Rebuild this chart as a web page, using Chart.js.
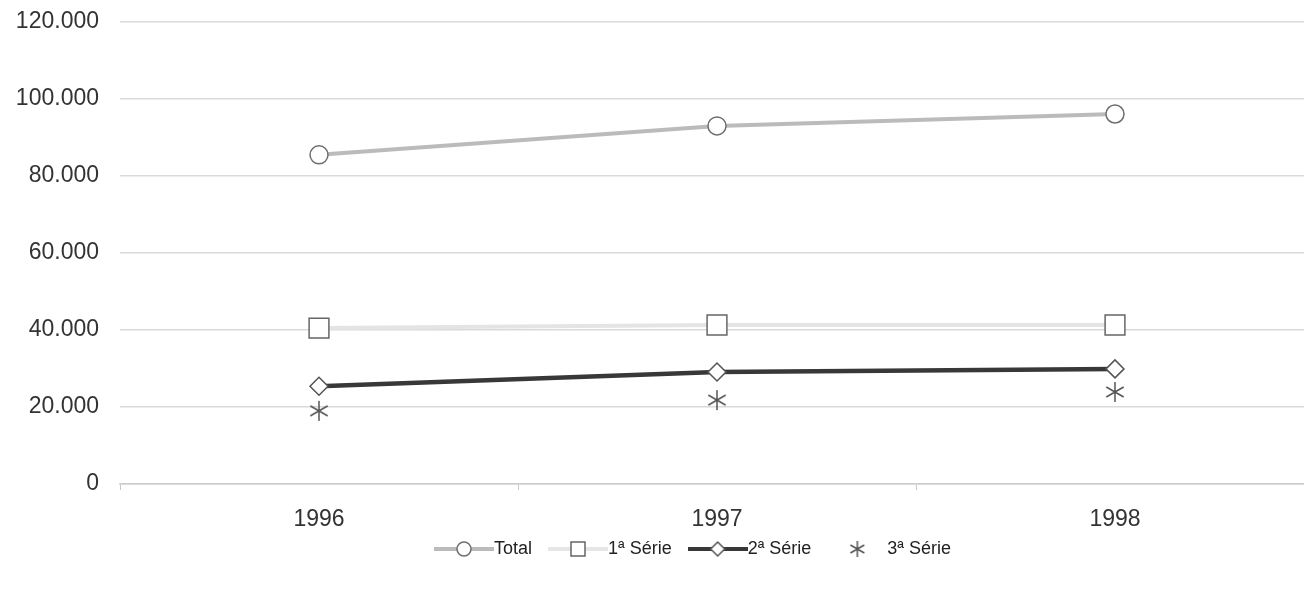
<!DOCTYPE html>
<html>
<head>
<meta charset="utf-8">
<script src="https://cdn.jsdelivr.net/npm/chart.js@4/dist/chart.umd.min.js"></script>
<style>
  html, body { margin: 0; padding: 0; background: #fff; overflow: hidden; }
  canvas { display: block; }
</style>
</head>
<body>
<canvas id="grafico" width="1314" height="590"></canvas>
<script>
// Dados
const anos = ['1996', '1997', '1998'];
const total = [85500, 93000, 96100];
const serie1 = [40500, 41300, 41300];
const serie2 = [25400, 29100, 29900];
const serie3 = [19000, 21800, 23900];
const nomes = ['Total', '1ª Série', '2ª Série', '3ª Série'];
const yMax = 120000;
const yPasso = 20000;

// marcador asterisco de 6 pontas
function asterisco(tam, cor) {
    const c = document.createElement('canvas');
    c.width = tam; c.height = tam;
    const g = c.getContext('2d');
    const r = tam / 2 - 1;
    g.strokeStyle = cor;
    g.lineWidth = 1.5;
    g.beginPath();
    for (let i = 0; i < 3; i++) {
        const a = Math.PI / 2 + i * Math.PI / 3;
        g.moveTo(tam / 2 + r * Math.cos(a), tam / 2 + r * Math.sin(a));
        g.lineTo(tam / 2 - r * Math.cos(a), tam / 2 - r * Math.sin(a));
    }
    g.stroke();
    return c;
}

// chave da legenda: linha + marcador
function chave(corLinha, tipo, corMarca) {
    const w = 60, h = 24;
    const c = document.createElement('canvas');
    c.width = w; c.height = h;
    const g = c.getContext('2d');
    const cx = w / 2, cy = h / 2;
    if (corLinha) {
        g.strokeStyle = corLinha;
        g.lineWidth = 4;
        g.beginPath(); g.moveTo(0, cy); g.lineTo(w, cy); g.stroke();
    }
    g.strokeStyle = corMarca;
    g.fillStyle = '#fff';
    g.lineWidth = 1.5;
    g.beginPath();
    if (tipo === 'circle') {
        g.arc(cx, cy, 7, 0, Math.PI * 2);
    } else if (tipo === 'rect') {
        g.rect(cx - 7, cy - 7, 14, 14);
    } else if (tipo === 'rectRot') {
        g.moveTo(cx, cy - 7); g.lineTo(cx + 7, cy); g.lineTo(cx, cy + 7); g.lineTo(cx - 7, cy); g.closePath();
    }
    if (tipo !== 'star') {
        g.fill(); g.stroke();
    } else {
        g.drawImage(asterisco(18, corMarca), cx - 9, cy - 9);
    }
    return c;
}

const chaves = [
    chave('#bbbbbb', 'circle', '#6e6e6e'),
    chave('#e6e6e6', 'rect', '#666666'),
    chave('#383838', 'rectRot', '#555555'),
    chave(null, 'star', '#555555')
];

// desloca a legenda (direita e para cima), como no original
const moveLegenda = {
    id: 'moveLegenda',
    afterLayout(chart) {
        const l = chart.legend;
        l.left += 40;
        l.right += 40;
        l.top -= 19;
        l.bottom -= 19;
    }
};

const fonte = '"Liberation Sans", Arial, Helvetica, sans-serif';

const ctx = document.getElementById('grafico').getContext('2d');
const grafico = new Chart(ctx, {
    type: 'line',
    data: {
        labels: anos,
        datasets: [{
            label: nomes[0],
            data: total,
            borderColor: '#bbbbbb',
            borderWidth: 4,
            pointStyle: 'circle',
            pointRadius: 9,
            pointBorderColor: '#6e6e6e',
            pointBackgroundColor: '#ffffff',
            pointBorderWidth: 1.5
        }, {
            label: nomes[1],
            data: serie1,
            borderColor: '#e4e4e4',
            borderWidth: 4,
            pointStyle: 'rect',
            pointRadius: 14,
            pointBorderColor: '#666666',
            pointBackgroundColor: '#ffffff',
            pointBorderWidth: 1.5
        }, {
            label: nomes[2],
            data: serie2,
            borderColor: '#383838',
            borderWidth: 4.5,
            pointStyle: 'rectRot',
            pointRadius: 9,
            pointBorderColor: '#555555',
            pointBackgroundColor: '#ffffff',
            pointBorderWidth: 1.5
        }, {
            label: nomes[3],
            data: serie3,
            showLine: false,
            borderColor: '#555555',
            pointStyle: asterisco(22, '#555555')
        }]
    },
    options: {
        responsive: false,
        animation: false,
        events: [],
        layout: { autoPadding: false, padding: { top: 22, bottom: 3, left: 0, right: 0 } },
        scales: {
            x: {
                offset: true,
                grid: {
                    offset: true,
                    drawOnChartArea: false,
                    tickLength: 6,
                    color: '#c8c8c8'
                },
                border: { color: '#cccccc', width: 1.5 },
                ticks: {
                    padding: 16,
                    color: '#333',
                    font: { family: fonte, size: 23 }
                },
                afterFit: s => {
                    s.height = 50;
                    s.paddingLeft = 0;
                    s.paddingRight = 0;
                }
            },
            y: {
                min: 0,
                max: yMax,
                grid: { color: '#dadada', lineWidth: 1.5, tickLength: 21, tickColor: 'rgba(0,0,0,0)' },
                border: { display: false },
                ticks: {
                    stepSize: yPasso,
                    padding: 0,
                    color: '#333',
                    font: { family: fonte, size: 23 },
                    callback: v => v.toLocaleString('de-DE')
                },
                afterFit: s => {
                    s.width = 120;
                    s.paddingTop = 0;
                    s.paddingBottom = 0;
                }
            }
        },
        plugins: {
            legend: {
                position: 'bottom',
                labels: {
                    usePointStyle: true,
                    pointStyleWidth: 42,
                    padding: 25,
                    color: '#222',
                    font: { family: fonte, size: 18 },
                    generateLabels: chart => {
                        const itens = Chart.defaults.plugins.legend.labels.generateLabels(chart);
                        itens.forEach((it, i) => { it.pointStyle = chaves[i]; });
                        return itens;
                    }
                }
            },
            tooltip: { enabled: false }
        }
    },
    plugins: [moveLegenda]
});
</script>
</body>
</html>
